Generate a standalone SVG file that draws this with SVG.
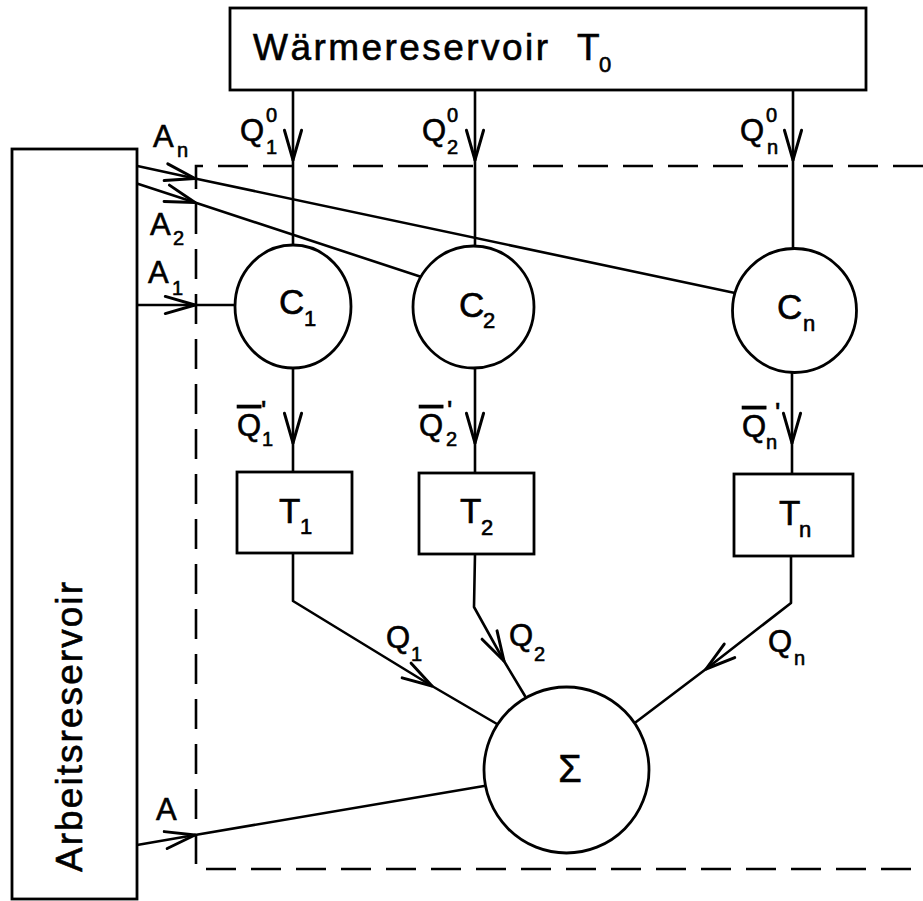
<svg xmlns="http://www.w3.org/2000/svg" width="923" height="901" viewBox="0 0 923 901">
<style>
text{font-family:"Liberation Sans",Arial,sans-serif;fill:#000;stroke:#000;stroke-width:0.6}
.box,.node{fill:#fff;stroke:#000;stroke-width:2.8}
.ln{fill:none;stroke:#000;stroke-width:2.6;stroke-linecap:round;stroke-linejoin:round}
.dash{fill:none;stroke:#000;stroke-width:2.6;stroke-dasharray:30 15}
.big{font-size:37px}
.mid{font-size:35px}
.lab{font-size:31px}
.sm{font-size:20px}
.sm2{font-size:22px}
.pr{font-size:28px}
</style>
<defs>
<marker id="v" markerUnits="userSpaceOnUse" markerWidth="40" markerHeight="40" refX="0" refY="0" viewBox="-30 -15 35 30" orient="auto" overflow="visible">
<path d="M-26,-7.5 L0,0 L-26,7.5" fill="none" stroke="#000" stroke-width="2.6" stroke-linecap="round" stroke-linejoin="round"/>
</marker>
</defs>

<g id="connectors">
<path class="dash" d="M923,166 H196 V869 H923"/>
<line class="ln" x1="293" y1="90" x2="293" y2="160" marker-end="url(#v)"/>
<line class="ln" x1="293" y1="160" x2="293" y2="245"/>
<line class="ln" x1="475" y1="90" x2="475" y2="160" marker-end="url(#v)"/>
<line class="ln" x1="475" y1="160" x2="475" y2="246"/>
<line class="ln" x1="793" y1="90" x2="793" y2="160" marker-end="url(#v)"/>
<line class="ln" x1="793" y1="160" x2="793" y2="249"/>
<line class="ln" x1="119" y1="162" x2="195" y2="178.5" marker-end="url(#v)"/>
<line class="ln" x1="195" y1="178.5" x2="735" y2="293"/>
<line class="ln" x1="117" y1="177" x2="195" y2="202.5" marker-end="url(#v)"/>
<line class="ln" x1="195" y1="202.5" x2="421.5" y2="277"/>
<line class="ln" x1="110" y1="305" x2="195" y2="305" marker-end="url(#v)"/>
<line class="ln" x1="195" y1="305" x2="235" y2="305"/>
<line class="ln" x1="293" y1="368" x2="293" y2="443" marker-end="url(#v)"/>
<line class="ln" x1="293" y1="443" x2="293" y2="472"/>
<line class="ln" x1="475" y1="368" x2="475" y2="443" marker-end="url(#v)"/>
<line class="ln" x1="475" y1="443" x2="475" y2="473"/>
<line class="ln" x1="792" y1="372" x2="792" y2="443" marker-end="url(#v)"/>
<line class="ln" x1="792" y1="443" x2="792" y2="474"/>
<polyline class="ln" points="293,553 293,601 432,686" marker-end="url(#v)"/>
<line class="ln" x1="432" y1="686" x2="497" y2="724"/>
<polyline class="ln" points="475,554 474,607 504,661" marker-end="url(#v)"/>
<line class="ln" x1="504" y1="661" x2="525" y2="696"/>
<polyline class="ln" points="791,556 791,603 706,669" marker-end="url(#v)"/>
<line class="ln" x1="706" y1="669" x2="636" y2="722"/>
<line class="ln" x1="137" y1="845" x2="195" y2="835" marker-end="url(#v)"/>
<line class="ln" x1="195" y1="835" x2="484" y2="786"/>
</g>

<g id="waermereservoir">
<rect class="box" x="230" y="8" width="636" height="82"/>
<text class="big" x="253" y="60" textLength="295" lengthAdjust="spacing">Wärmereservoir</text>
<text class="big" x="577" y="60">T<tspan class="sm2" x="599" y="72">0</tspan></text>
</g>

<g id="arbeitsreservoir">
<rect class="box" x="12" y="149" width="125" height="750"/>
<text class="big" transform="translate(82,872) rotate(-90)" x="0" y="0" textLength="290" lengthAdjust="spacing">Arbeitsreservoir</text>
</g>

<g id="C1">
<ellipse class="node" cx="293" cy="306.5" rx="58" ry="61.5"/>
<text class="mid" x="279" y="314">C<tspan class="sm2" x="304" y="326">1</tspan></text>
</g>
<g id="C2">
<ellipse class="node" cx="473.5" cy="307" rx="60.5" ry="61"/>
<text class="mid" x="459" y="317">C<tspan class="sm2" x="483" y="328">2</tspan></text>
</g>
<g id="Cn">
<ellipse class="node" cx="794.5" cy="310.5" rx="62" ry="62"/>
<text class="mid" x="777" y="319">C<tspan class="sm2" x="803" y="331">n</tspan></text>
</g>

<g id="T1">
<rect class="box" x="237" y="472" width="115" height="81"/>
<text class="mid" x="279" y="523">T<tspan class="sm2" x="300" y="534">1</tspan></text>
</g>
<g id="T2">
<rect class="box" x="419" y="473" width="115" height="81"/>
<text class="mid" x="460" y="523">T<tspan class="sm2" x="481" y="535">2</tspan></text>
</g>
<g id="Tn">
<rect class="box" x="734" y="474" width="119" height="82"/>
<text class="mid" x="779" y="525">T<tspan class="sm2" x="799" y="537">n</tspan></text>
</g>

<g id="sigma">
<ellipse class="node" cx="566.5" cy="770" rx="82.5" ry="83"/>
<text x="570" y="782" text-anchor="middle" style="font-size:38px">Σ</text>
</g>

<g id="labels">
<text class="lab" x="240" y="141">Q<tspan class="sm" x="266" y="122">0</tspan><tspan class="sm" x="266" y="154">1</tspan></text>
<text class="lab" x="422" y="141">Q<tspan class="sm" x="447" y="122">0</tspan><tspan class="sm" x="447" y="154">2</tspan></text>
<text class="lab" x="740" y="141">Q<tspan class="sm" x="766" y="122">0</tspan><tspan class="sm" x="767" y="154">n</tspan></text>

<text class="lab" x="153" y="147">A<tspan class="sm" x="177" y="157">n</tspan></text>
<text class="lab" x="150" y="235">A<tspan class="sm" x="173" y="245">2</tspan></text>
<text class="lab" x="148" y="283">A<tspan class="sm" x="172" y="295">1</tspan></text>
<text class="lab" x="156" y="820">A</text>

<text class="lab" x="237" y="436"><tspan text-decoration="overline">Q</tspan><tspan class="pr" x="261" y="420">'</tspan><tspan class="sm" x="262" y="446">1</tspan></text>
<text class="lab" x="419" y="436"><tspan text-decoration="overline">Q</tspan><tspan class="pr" x="447" y="420">'</tspan><tspan class="sm" x="446" y="446">2</tspan></text>
<text class="lab" x="742" y="437"><tspan text-decoration="overline">Q</tspan><tspan class="pr" x="775" y="422">'</tspan><tspan class="sm" x="766" y="449">n</tspan></text>

<text class="lab" x="386" y="648">Q<tspan class="sm" x="411" y="661">1</tspan></text>
<text class="lab" x="509" y="646">Q<tspan class="sm" x="534" y="661">2</tspan></text>
<text class="lab" x="768" y="652">Q<tspan class="sm" x="794" y="665">n</tspan></text>
</g>
</svg>
